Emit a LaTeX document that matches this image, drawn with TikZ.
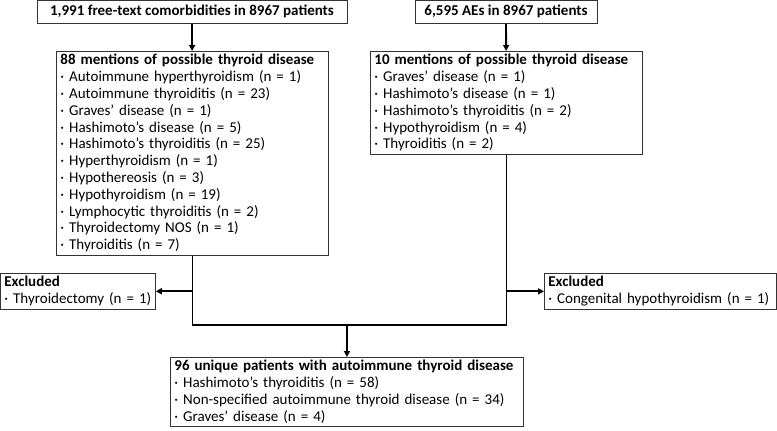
\documentclass[tikz,border=0pt]{standalone}
\usepackage{fontspec}
\setmainfont{Carlito}
\usepackage{tikz}
\usetikzlibrary{positioning, arrows.meta, calc}

\begin{document}
\begin{tikzpicture}[x=1pt,y=-1pt,
    every node/.style={font=\fontsize{15}{16.8}\selectfont},
    box/.style={draw=black!80, line width=0.8pt, inner xsep=4pt, inner ysep=3pt, align=left, anchor=north west},
    head/.style={draw=black!80, line width=0.8pt, inner sep=2pt, minimum height=23pt, anchor=north, font=\fontsize{15}{16.8}\selectfont\bfseries},
    flow/.style={line width=1.8pt},
    arr/.style={flow, -{Triangle[length=6pt,width=6pt]}}]
        \useasboundingbox (0,0) rectangle (777,431);

        % Sources
        \node[head, minimum width=310pt] (comorb) at (192,0) {1,991 free-text comorbidities in 8967 patients};
        \node[head, minimum width=182pt] (aes) at (506,0) {6,595 AEs in 8967 patients};

        % Mentions
        \node[box, text width=264pt] (mentL) at (56,51) {\textbf{88 mentions of possible thyroid disease}\\
            · Autoimmune hyperthyroidism (n = 1)\\
            · Autoimmune thyroiditis (n = 23)\\
            · Graves’ disease (n = 1)\\
            · Hashimoto’s disease (n = 5)\\
            · Hashimoto’s thyroiditis (n = 25)\\
            · Hyperthyroidism (n = 1)\\
            · Hypothereosis (n = 3)\\
            · Hypothyroidism (n = 19)\\
            · Lymphocytic thyroiditis (n = 2)\\
            · Thyroidectomy NOS (n = 1)\\
            · Thyroiditis (n = 7)};
        \node[box, text width=264pt] (mentR) at (370,51) {\textbf{10 mentions of possible thyroid disease}\\
            · Graves’ disease (n = 1)\\
            · Hashimoto’s disease (n = 1)\\
            · Hashimoto’s thyroiditis (n = 2)\\
            · Hypothyroidism (n = 4)\\
            · Thyroiditis (n = 2)};

        % Excluded
        \node[box, text width=147pt] (exclL) at (0,273) {\textbf{Excluded}\\· Thyroidectomy (n = 1)};
        \node[box, text width=224pt] (exclR) at (544,273) {\textbf{Excluded}\\· Congenital hypothyroidism (n = 1)};

        % Result
        \node[box, text width=345pt] (final) at (170,357) {\textbf{96 unique patients with autoimmune thyroid disease}\\
            · Hashimoto’s thyroiditis (n = 58)\\
            · Non-specified autoimmune thyroid disease (n = 34)\\
            · Graves’ disease (n = 4)};

        % Connectors
        \draw[arr] (comorb) -- (mentL);
        \draw[arr] (aes) -- (mentR);
        \coordinate (merge) at (347,325);
        \draw[flow] (mentL.south) |- (merge) -| (mentR.south);
        \draw[arr] (mentL.south |- exclL.east) -- (exclL.east);
        \draw[arr] (mentR.south |- exclR.west) -- (exclR.west);
        \draw[arr] (merge) -- (final);
\end{tikzpicture}
\end{document}
